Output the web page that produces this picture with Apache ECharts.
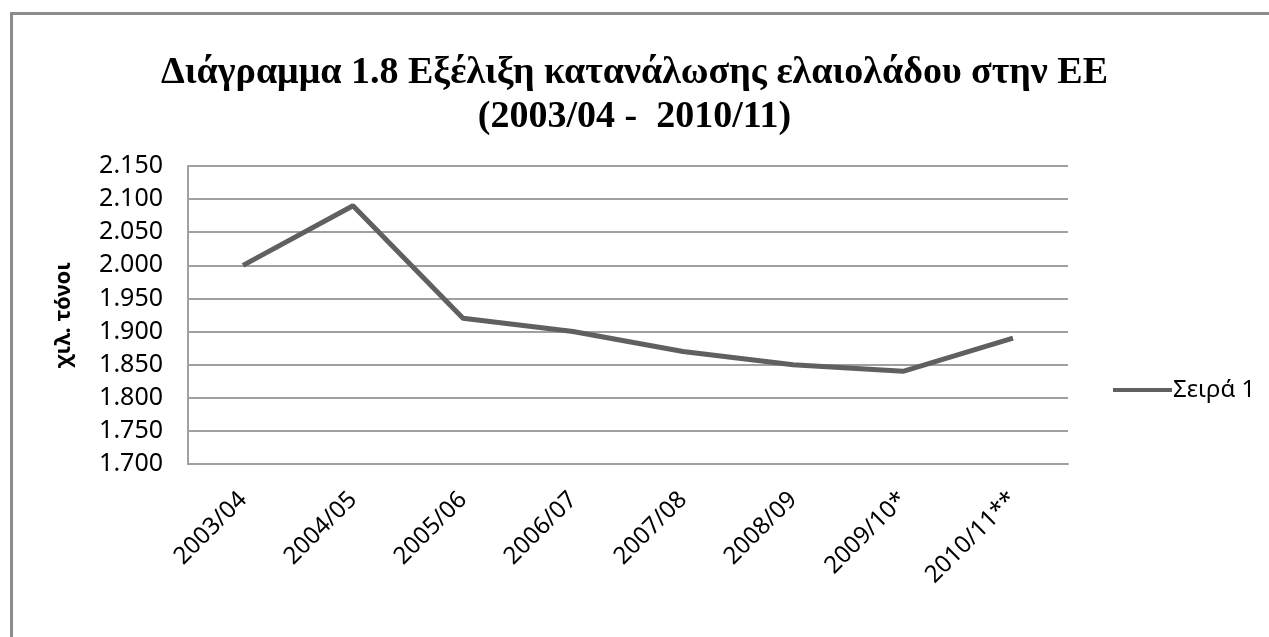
<!DOCTYPE html>
<html>
<head>
<meta charset="utf-8">
<script src="https://cdn.jsdelivr.net/npm/echarts@6/dist/echarts.min.js"></script>
<style>
  html, body { margin: 0; padding: 0; background: #fff; }
  #chart { width: 1269px; height: 637px; }
</style>
</head>
<body>
<div id="chart"></div>
<script>
// data (thousand tonnes)
const seasons = ["2003/04", "2004/05", "2005/06", "2006/07", "2007/08", "2008/09", "2009/10*", "2010/11**"];
const consumption = [2000, 2090, 1920, 1900, 1870, 1850, 1840, 1890];
const yMin = 1700;
const yMax = 2150;
const yStep = 50;

const chart = echarts.init(document.getElementById("chart"));

chart.setOption({
  animation: false,
  title: {
    text: "Διάγραμμα 1.8 Εξέλιξη κατανάλωσης ελαιολάδου στην ΕΕ\n(2003/04 -  2010/11)",
    left: "center",
    top: 46,
    textStyle: {
      fontFamily: "Liberation Serif",
      fontWeight: "bold",
      fontSize: 38,
      lineHeight: 44,
      color: "#000",
    },
  },
  legend: {
    data: ["Σειρά 1"],
    orient: "vertical",
    left: 1108,
    top: 373,
    itemWidth: 59,
    itemHeight: 4,
    itemGap: 4,
    icon: "rect",
    textStyle: { fontFamily: "Noto Sans", fontSize: 24, color: "#000", padding: [0, 0, 0, -4] },
  },
  grid: {
    left: 188,
    right: 201,
    top: 166,
    bottom: 173,
  },
  xAxis: {
    type: "category",
    data: seasons,
    boundaryGap: true,
    axisLine: { lineStyle: { color: "#a0a0a0", width: 2 } },
    axisTick: { show: false },
    axisLabel: {
      rotate: 45,
      margin: 32,
      fontFamily: "Noto Sans",
      fontSize: 24,
      color: "#000",
    },
  },
  yAxis: {
    type: "value",
    min: yMin,
    max: yMax,
    interval: yStep,
    name: "χιλ. τόνοι",
    nameLocation: "middle",
    nameGap: 113,
    nameTextStyle: {
      fontFamily: "Noto Sans",
      fontWeight: "bold",
      fontSize: 22,
      color: "#000",
    },
    axisLine: { show: true, lineStyle: { color: "#a0a0a0", width: 2 } },
    axisTick: { show: false },
    splitLine: { lineStyle: { color: "#a0a0a0", width: 2 } },
    axisLabel: {
      margin: 25,
      fontFamily: "Noto Sans",
      fontSize: 25,
      color: "#000",
      formatter: (v) => (v / 1000).toFixed(3),
    },
  },
  series: [
    {
      name: "Σειρά 1",
      type: "line",
      data: consumption,
      symbol: "none",
      lineStyle: { color: "#606060", width: 5 },
      itemStyle: { color: "#606060" },
    },
  ],
  graphic: [
    {
      type: "rect",
      left: 9,
      top: 11,
      shape: { width: 1300, height: 700 },
      style: { fill: "none", stroke: "#8c8c8c", lineWidth: 3 },
      silent: true,
    },
  ],
});
</script>
</body>
</html>
